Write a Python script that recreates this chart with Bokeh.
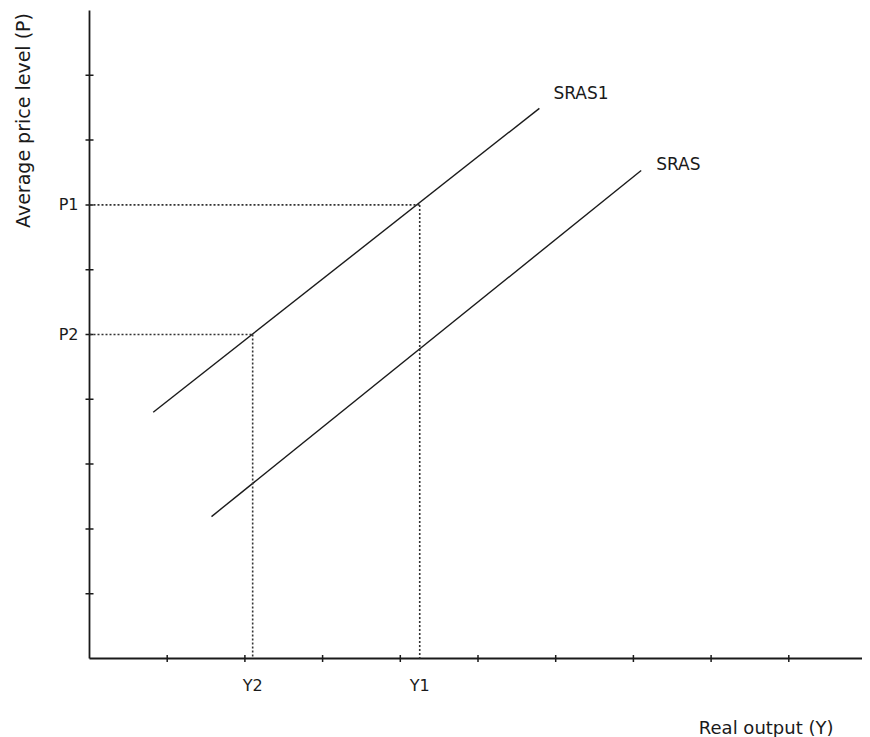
import math
from bokeh.plotting import figure
from bokeh.models import Range1d
from bokeh.core.properties import value
from bokeh.embed import file_html
from bokeh.resources import INLINE

# ---- data ----
x_ticks = [1, 2, 3, 4, 5, 6, 7, 8, 9]
y_ticks = [1, 2, 3, 4, 5, 6, 7, 8, 9]
axis_max_x = 10.0
axis_max_y = 10.0

sras1_x = [0.82, 5.79]
sras1_y = [3.80, 8.49]
sras_x = [1.57, 7.10]
sras_y = [2.19, 7.53]

p_levels = [7.0, 5.0]
p_labels = ["P1", "P2"]
y_levels = [4.25, 2.10]
y_labels = ["Y1", "Y2"]

FONT = value("DejaVu Sans")
INK = "#1a1a1a"

W, H = 862, 737
X0, Y0 = 89, 658          # pixel position of the origin
SX, SY = 77.7, 64.8       # pixels per unit

p = figure(width=W, height=H, output_backend="svg", toolbar_location=None,
           x_range=Range1d(-X0 / SX, (W - X0) / SX),
           y_range=Range1d(-(H - Y0) / SY, Y0 / SY),
           x_axis_type=None, y_axis_type=None,
           min_border=0, min_border_left=0, min_border_right=0,
           min_border_top=0, min_border_bottom=0)
p.outline_line_color = None
p.grid.visible = False
p.background_fill_color = "white"

# axes
p.line([0, 0], [0, axis_max_y], line_color=INK, line_width=1.8)
p.line([0, axis_max_x], [0, 0], line_color=INK, line_width=1.8)
p.scatter(x=[0] * len(y_ticks), y=y_ticks, marker="dash", size=8,
          line_color=INK, line_width=1.5)
p.scatter(x=x_ticks, y=[0] * len(x_ticks), marker="dash", size=7, angle=math.pi / 2,
          line_color=INK, line_width=1.5)

# supply curves
p.line(sras1_x, sras1_y, line_color=INK, line_width=1.4)
p.line(sras_x, sras_y, line_color=INK, line_width=1.4)

# dotted guide lines
dot = dict(line_color="#333333", line_width=1.6, line_dash="2 2")
for yv, pv in zip(y_levels, p_levels):
    p.line([0, yv], [pv, pv], **dot)
    p.line([yv, yv], [pv, 0], **dot)

txt = dict(text_font=FONT, text_color=INK)
# price labels
p.text(x=[0] * len(p_levels), y=p_levels, text=p_labels, x_offset=-11,
       text_align="right", text_baseline="middle", text_font_size="16px", **txt)
# output labels
p.text(x=y_levels, y=[0] * len(y_levels), text=y_labels, y_offset=17,
       text_align="center", text_baseline="top", text_font_size="16px", **txt)
# curve labels
p.text(x=[sras1_x[1]], y=[sras1_y[1]], text=["SRAS1"], x_offset=14, y_offset=-15,
       text_align="left", text_baseline="middle", text_font_size="17px", **txt)
p.text(x=[sras_x[1]], y=[sras_y[1]], text=["SRAS"], x_offset=15, y_offset=-7,
       text_align="left", text_baseline="middle", text_font_size="17px", **txt)

# axis titles
p.text(x=[axis_max_x], y=[0], text=["Real output (Y)"], x_offset=-33, y_offset=58,
       text_align="right", text_baseline="top", text_font_size="18px", **txt)
p.text(x=[0], y=[axis_max_y], text=["Average price level (P)"], x_offset=-67, y_offset=110,
       angle=math.pi / 2, text_align="center", text_baseline="middle",
       text_font_size="19px", **txt)

open("out.html", "w").write(file_html(p, INLINE))
